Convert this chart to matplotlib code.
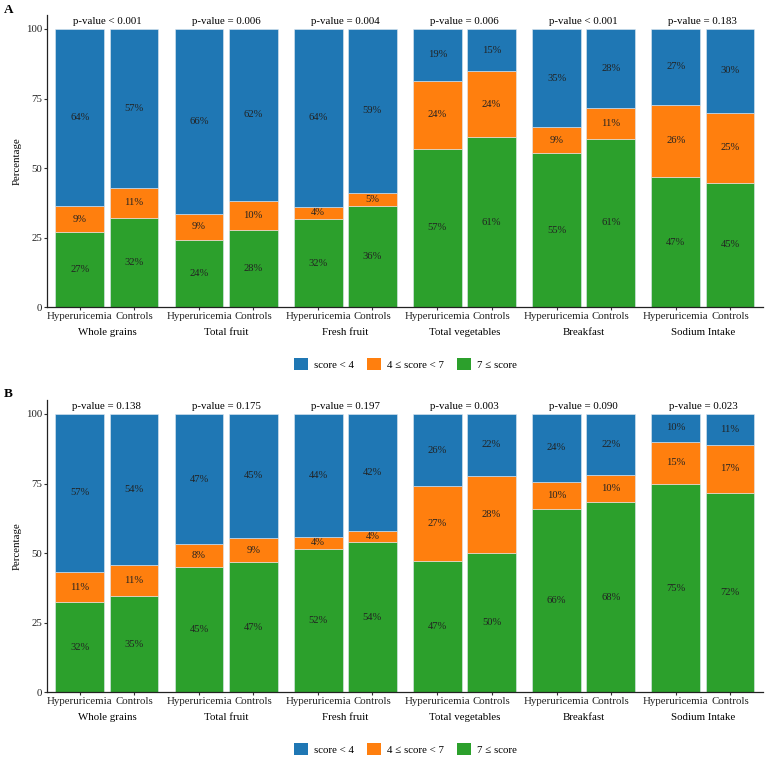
import matplotlib
matplotlib.use("Agg")
import matplotlib.pyplot as plt
from matplotlib.patches import Patch
import numpy as np

plt.rcParams['font.family'] = ['Liberation Serif', 'DejaVu Serif']

categories = ["Whole grains", "Total fruit", "Fresh fruit", "Total vegetables", "Breakfast", "Sodium Intake"]
groups = ["Hyperuricemia", "Controls"]
levels = ["score < 4", "4 \u2264 score < 7", "7 \u2264 score"]
colors = {"score < 4": "#1F77B4", "4 \u2264 score < 7": "#FF7F0E", "7 \u2264 score": "#2CA02C"}

# Panel A: per category, [Hyperuricemia, Controls]
A_high = [[27.0, 32.2], [24.3, 27.9], [31.8, 36.4], [57.0, 61.0], [55.3, 60.6], [46.9, 44.8]]   # 7 <= score
A_mid  = [[9.3, 10.8], [9.3, 10.3], [4.3, 4.8], [24.3, 23.8], [9.4, 11.1], [25.8, 25.0]]      # 4 <= score < 7
A_low  = [[63.7, 57.0], [66.4, 61.8], [63.9, 58.8], [18.7, 15.2], [35.3, 28.3], [27.3, 30.2]] # score < 4
A_p = ["p-value < 0.001", "p-value = 0.006", "p-value = 0.004", "p-value = 0.006", "p-value < 0.001", "p-value = 0.183"]

# Panel B
B_high = [[32.3, 34.7], [45.0, 46.8], [51.6, 54.0], [47.2, 50.2], [65.9, 68.4], [74.9, 71.6]]
B_mid  = [[11.0, 10.9], [8.1, 8.6], [4.3, 4.0], [26.8, 27.6], [9.8, 9.6], [15.0, 17.4]]
B_low  = [[56.7, 54.4], [46.9, 44.6], [44.1, 42.0], [26.0, 22.2], [24.3, 22.0], [10.1, 11.0]]
B_p = ["p-value = 0.138", "p-value = 0.175", "p-value = 0.197", "p-value = 0.003", "p-value = 0.090", "p-value = 0.023"]

W, H = 767, 760
fig = plt.figure(figsize=(W / 100, H / 100), dpi=100)

FW = 2.2  # facet width in x units
FS = 7.8


def draw_panel(ax, high, mid, low, pvals):
    xs, labels = [], []
    for i, cat in enumerate(categories):
        for j, g in enumerate(groups):
            x = i * FW + 0.6 + j
            xs.append(x)
            labels.append(g)
            segs = [(high[i][j], "7 \u2264 score"), (mid[i][j], "4 \u2264 score < 7"), (low[i][j], "score < 4")]
            bottom = 0.0
            for val, lev in segs:
                ax.bar(x, val, width=0.9, bottom=bottom, color=colors[lev],
                       edgecolor="#dfe9f2", linewidth=0.4)
                ax.text(x, bottom + val / 2, f"{val:.0f}%", ha="center", va="center",
                        fontsize=7.6, color="#222222")
                bottom += val
        ax.text(i * FW + FW / 2, 102.7, pvals[i], ha="center", va="center", fontsize=FS)
        ax.text(i * FW + FW / 2, -8.9, cat, ha="center", va="center", fontsize=FS,
                clip_on=False)
    ax.set_xlim(0, FW * len(categories))
    ax.set_ylim(0, 105)
    ax.set_xticks(xs)
    ax.set_xticklabels(labels, fontsize=FS)
    ax.set_yticks([0, 25, 50, 75, 100])
    ax.tick_params(axis="both", labelsize=FS, length=2.3, width=0.8, colors="#333333",
                   labelcolor="#222222", pad=1.2)
    ax.tick_params(axis="x", pad=0.8)
    for s in ["top", "right"]:
        ax.spines[s].set_visible(False)
    for s in ["left", "bottom"]:
        ax.spines[s].set_linewidth(0.9)
        ax.spines[s].set_color("#222222")
    ax.set_ylabel("Percentage", fontsize=FS, labelpad=3)


left = 47.3 / W
width = (762.5 - 47.3) / W

axA = fig.add_axes([left, 1 - 307.3 / H, width, (307.3 - 15) / H])
draw_panel(axA, A_high, A_mid, A_low, A_p)
axB = fig.add_axes([left, 1 - 692.3 / H, width, (692.3 - 400) / H])
draw_panel(axB, B_high, B_mid, B_low, B_p)

fig.text(4 / W, 1 - 10 / H, "A", fontsize=9.5, fontweight="bold", ha="left", va="center")
fig.text(4 / W, 1 - 394 / H, "B", fontsize=9.5, fontweight="bold", ha="left", va="center")

handles = [Patch(facecolor=colors[l], edgecolor="none", label=l) for l in levels]
for yc in [364, 749]:
    fig.legend(handles=handles, loc="center", bbox_to_anchor=(405 / W, 1 - yc / H), ncol=3,
               frameon=False, fontsize=FS, handlelength=1.35, handleheight=1.35,
               handletextpad=0.5, columnspacing=1.2)

fig.savefig("out.png", dpi=100)
